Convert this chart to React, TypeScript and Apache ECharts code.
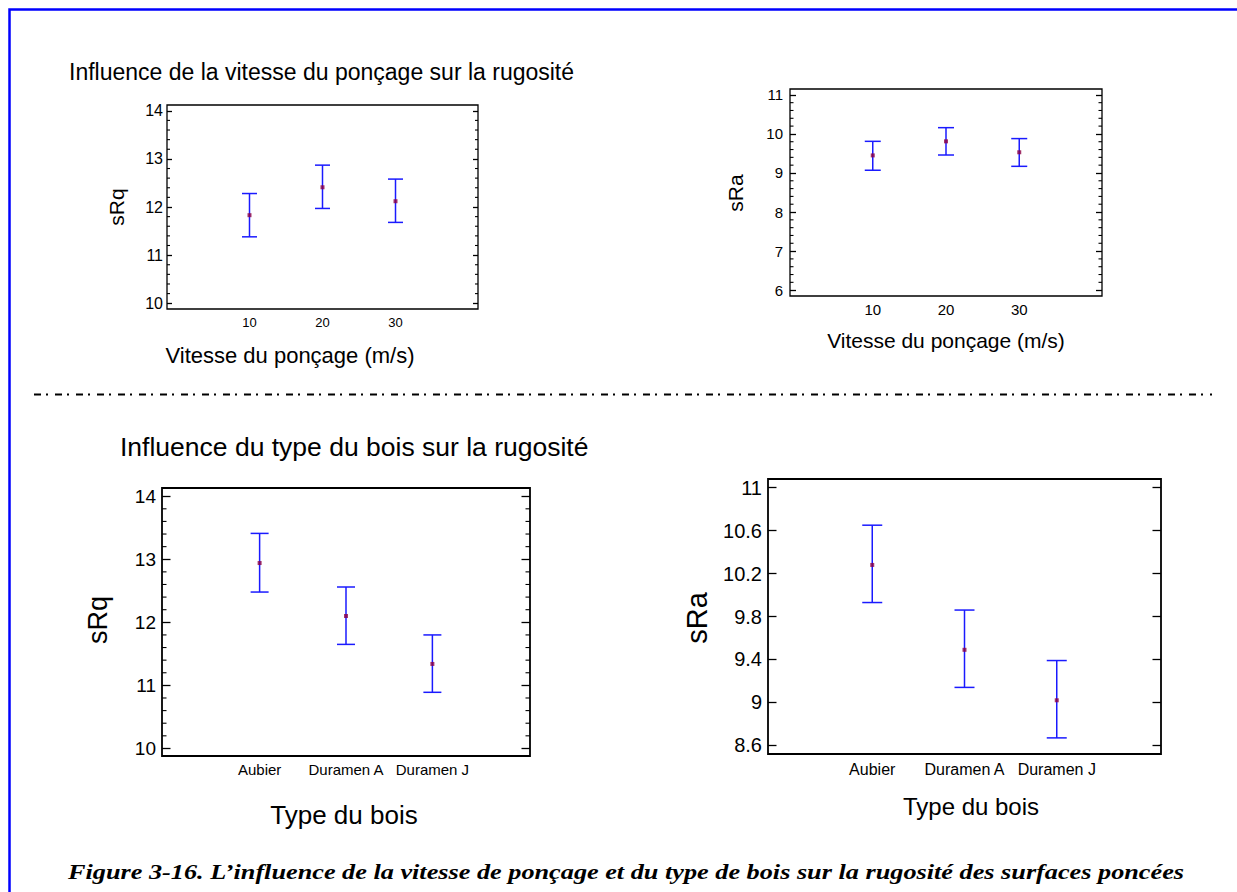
import React, { useEffect, useRef } from "react";
import * as echarts from "echarts";

// ---- data ----
const speedCats = ["10", "20", "30"];
const woodCats = ["Aubier", "Duramen A", "Duramen J"];

const sRqSpeedMean = [11.83, 12.41, 12.12];
const sRqSpeedLow = [11.38, 11.97, 11.68];
const sRqSpeedHigh = [12.28, 12.87, 12.58];

const sRaSpeedMean = [9.45, 9.81, 9.53];
const sRaSpeedLow = [9.07, 9.46, 9.17];
const sRaSpeedHigh = [9.81, 10.16, 9.88];

const sRqWoodMean = [12.94, 12.1, 11.34];
const sRqWoodLow = [12.48, 11.65, 10.89];
const sRqWoodHigh = [13.41, 12.56, 11.8];

const sRaWoodMean = [10.28, 9.49, 9.02];
const sRaWoodLow = [9.93, 9.14, 8.67];
const sRaWoodHigh = [10.65, 9.86, 9.39];

const sRqTicks = [10, 11, 12, 13, 14];
const sRaSpeedTicks = [6, 7, 8, 9, 10, 11];
const sRaWoodTicks = [8.6, 9, 9.4, 9.8, 10.2, 10.6, 11];

const FONT = "'Liberation Sans', Arial, sans-serif";

type Panel = {
  rect: { left: number; top: number; width: number; height: number };
  yMin: number;
  yMax: number;
  ticks: number[];
  minorSplit: number; // 0 = none
  majorLen: number;
  minorLen: number;
  yFont: number;
  yMargin: number;
  xFont: number;
  xMargin: number;
  cats: string[];
  mean: number[];
  low: number[];
  high: number[];
  capHalf: number;
  frameWidth: number;
};

const panels: Panel[] = [
  {
    rect: { left: 167, top: 105, width: 311, height: 204 },
    yMin: 9.88, yMax: 14.12, ticks: sRqTicks, minorSplit: 5,
    majorLen: 5, minorLen: 3, yFont: 16, yMargin: 4, xFont: 13, xMargin: 7,
    cats: speedCats, mean: sRqSpeedMean, low: sRqSpeedLow, high: sRqSpeedHigh,
    capHalf: 7.5, frameWidth: 1.3,
  },
  {
    rect: { left: 790, top: 89, width: 312, height: 207 },
    yMin: 5.85, yMax: 11.15, ticks: sRaSpeedTicks, minorSplit: 5,
    majorLen: 6, minorLen: 3.5, yFont: 15, yMargin: 7, xFont: 15, xMargin: 6,
    cats: speedCats, mean: sRaSpeedMean, low: sRaSpeedLow, high: sRaSpeedHigh,
    capHalf: 8, frameWidth: 1.3,
  },
  {
    rect: { left: 162, top: 488, width: 368, height: 268 },
    yMin: 9.88, yMax: 14.13, ticks: sRqTicks, minorSplit: 5,
    majorLen: 8.5, minorLen: 4.5, yFont: 19, yMargin: 6, xFont: 15, xMargin: 6,
    cats: woodCats, mean: sRqWoodMean, low: sRqWoodLow, high: sRqWoodHigh,
    capHalf: 9, frameWidth: 1.8,
  },
  {
    rect: { left: 768, top: 479, width: 393, height: 275 },
    yMin: 8.52, yMax: 11.08, ticks: sRaWoodTicks, minorSplit: 0,
    majorLen: 8.5, minorLen: 0, yFont: 20, yMargin: 6, xFont: 16, xMargin: 7,
    cats: woodCats, mean: sRaWoodMean, low: sRaWoodLow, high: sRaWoodHigh,
    capHalf: 10, frameWidth: 1.8,
  },
];

const X_MIN = -1.13;
const X_MAX = 3.13;

function minorValues(ticks: number[], split: number, lo: number, hi: number): number[] {
  const out: number[] = [];
  if (!split) return out;
  const step = ticks[1] - ticks[0];
  for (let i = -1; i < ticks.length; i++) {
    const base = ticks[0] + i * step;
    for (let k = 1; k < split; k++) {
      const v = +(base + (k * step) / split).toFixed(4);
      if (v > lo && v < hi) out.push(v);
    }
  }
  return out;
}

function buildOption() {
  const grid: any[] = [];
  const xAxis: any[] = [];
  const yAxis: any[] = [];
  const series: any[] = [];

  panels.forEach((p, g) => {
    grid.push({
      ...p.rect,
      show: true,
      borderColor: "#000",
      borderWidth: p.frameWidth,
      backgroundColor: "transparent",
      containLabel: false,
    });
    xAxis.push({
      gridIndex: g,
      type: "value",
      min: X_MIN,
      max: X_MAX,
      axisLine: { show: false, onZero: false },
      axisTick: { show: false },
      splitLine: { show: false },
      axisLabel: {
        customValues: [0, 1, 2],
        formatter: (v: number) => p.cats[Math.round(v)] ?? "",
        color: "#000",
        fontFamily: FONT,
        fontSize: p.xFont,
        margin: p.xMargin,
      },
    });
    const base = {
      gridIndex: g,
      type: "value",
      min: p.yMin,
      max: p.yMax,
      axisLine: { show: false, onZero: false },
      splitLine: { show: false },
    };
    const yBase = yAxis.length;
    yAxis.push({
      ...base,
      position: "left",
      axisTick: {
        show: true, inside: true, length: p.majorLen,
        customValues: p.ticks,
        lineStyle: { color: "#000", width: 1.3 },
      },
      axisLabel: {
        customValues: p.ticks,
        color: "#000",
        fontFamily: FONT,
        fontSize: p.yFont,
        margin: p.yMargin,
        formatter: (v: number) => String(+v.toFixed(2)),
      },
    });
    yAxis.push({
      ...base,
      position: "right",
      axisTick: {
        show: true, inside: true, length: p.majorLen,
        customValues: p.ticks,
        lineStyle: { color: "#000", width: 1.3 },
      },
      axisLabel: { show: false },
    });

    // minor ticks on both frame sides, placed through the y scale
    const minors = minorValues(p.ticks, p.minorSplit, p.yMin, p.yMax);
    if (minors.length) {
      series.push({
        type: "custom",
        xAxisIndex: g,
        yAxisIndex: yBase,
        data: minors.map((v) => [X_MIN, v]),
        silent: true,
        clip: false,
        renderItem: (params: any, api: any) => {
          const pt = api.coord([api.value(0), api.value(1)]);
          const cs = params.coordSys;
          const st = { stroke: "#000", lineWidth: 1.1 };
          return {
            type: "group",
            children: [
              { type: "line", shape: { x1: cs.x, y1: pt[1], x2: cs.x + p.minorLen, y2: pt[1] }, style: st },
              { type: "line", shape: { x1: cs.x + cs.width - p.minorLen, y1: pt[1], x2: cs.x + cs.width, y2: pt[1] }, style: st },
            ],
          };
        },
      });
    }

    series.push({
      type: "custom",
      xAxisIndex: g,
      yAxisIndex: yBase,
      data: p.mean.map((_, i) => [i, p.low[i], p.high[i]]),
      silent: true,
      renderItem: (_params: any, api: any) => {
        const x = api.value(0);
        const lo = api.coord([x, api.value(1)]);
        const hi = api.coord([x, api.value(2)]);
        const st = { stroke: "#1a1aff", lineWidth: 1.5 };
        return {
          type: "group",
          children: [
            { type: "line", shape: { x1: hi[0], y1: hi[1], x2: lo[0], y2: lo[1] }, style: st },
            { type: "line", shape: { x1: hi[0] - p.capHalf, y1: hi[1], x2: hi[0] + p.capHalf, y2: hi[1] }, style: st },
            { type: "line", shape: { x1: lo[0] - p.capHalf, y1: lo[1], x2: lo[0] + p.capHalf, y2: lo[1] }, style: st },
          ],
        };
      },
    });
    series.push({
      type: "scatter",
      xAxisIndex: g,
      yAxisIndex: yBase,
      data: p.mean.map((m, i) => [i, m]),
      symbol: "rect",
      symbolSize: 4,
      itemStyle: { color: "#8b0045" },
      silent: true,
    });
  });

  const txt = (text: string, x: number, y: number, size: number, opts: any = {}) => ({
    type: "text",
    x,
    y,
    rotation: opts.rotation || 0,
    scaleX: opts.scaleX || 1,
    style: {
      text,
      fill: "#000",
      font: `${size}px ${FONT}`,
      align: opts.align || "center",
      verticalAlign: "middle",
    },
  });

  const graphic: any[] = [
    {
      type: "rect",
      shape: { x: 9.5, y: 9.5, width: 1400, height: 1000 },
      style: { fill: "none", stroke: "#0000ff", lineWidth: 2.5 },
    },
    txt("Influence de la vitesse du ponçage sur la rugosité", 69, 72, 23, { align: "left" }),
    txt("sRq", 116, 207, 21, { rotation: Math.PI / 2 }),
    txt("Vitesse du ponçage (m/s)", 290, 355, 22),
    txt("sRa", 735, 193, 21, { rotation: Math.PI / 2 }),
    txt("Vitesse du ponçage (m/s)", 946, 340, 21),
    {
      type: "line",
      shape: { x1: 34, y1: 394.5, x2: 1212, y2: 394.5 },
      style: { stroke: "#000", lineWidth: 2, lineDash: [7, 5, 2, 7] },
    },
    txt("Influence du type du bois sur la rugosité", 120, 447, 26.5, { align: "left" }),
    txt("sRq", 98, 620, 27, { rotation: Math.PI / 2 }),
    txt("Type du bois", 344, 815, 26),
    txt("sRa", 697, 618, 29, { rotation: Math.PI / 2 }),
    txt("Type du bois", 971, 806, 24),
    {
      type: "text",
      x: 68,
      y: 872,
      scaleX: 1.25,
      style: {
        text: "Figure 3-16. L’influence de la vitesse de ponçage et du type de bois sur la rugosité des surfaces poncées",
        fill: "#000",
        font: `italic bold 21px 'Liberation Serif', 'Times New Roman', serif`,
        align: "left",
        verticalAlign: "middle",
      },
    },
  ];

  return {
    animation: false,
    backgroundColor: "#fff",
    grid,
    xAxis,
    yAxis,
    series,
    graphic,
  };
}

export default function App() {
  const ref = useRef<HTMLDivElement>(null);
  useEffect(() => {
    if (!ref.current) return;
    const chart = echarts.init(ref.current, undefined, { renderer: "svg" });
    chart.setOption(buildOption() as any);
    return () => chart.dispose();
  }, []);
  return (
    <div
      ref={ref}
      style={{ position: "fixed", left: 0, top: 0, width: 1237, height: 892 }}
    />
  );
}
